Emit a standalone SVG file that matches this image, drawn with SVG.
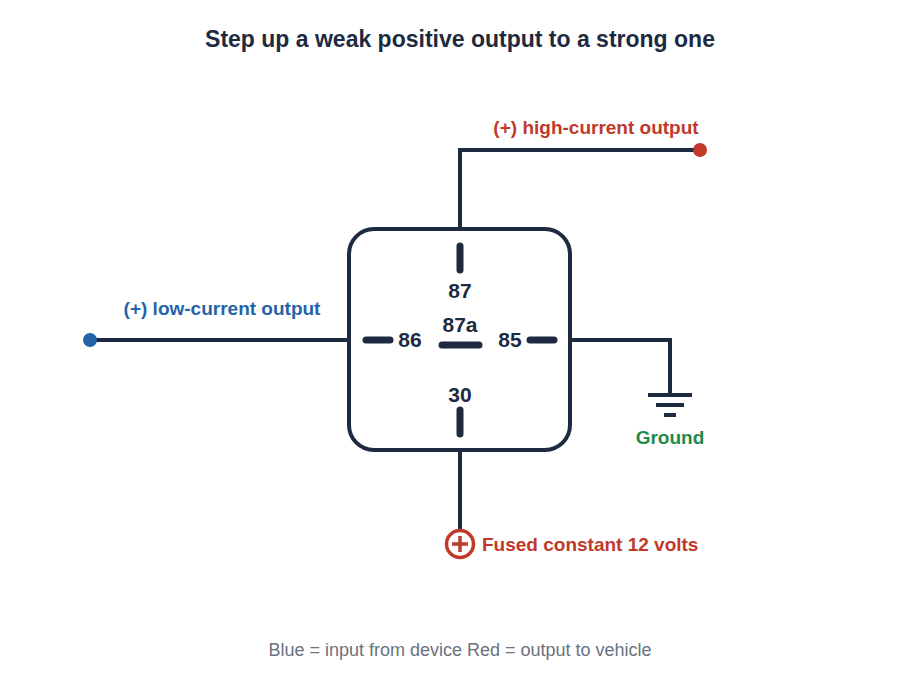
<svg xmlns="http://www.w3.org/2000/svg" width="920" height="680" viewBox="0 0 920 680">
<style>
.w{stroke:#1e2a40;stroke-width:4;fill:none}
.p{stroke:#1e2a40;stroke-width:7;stroke-linecap:round}
.t{font-family:"Liberation Sans",Arial,sans-serif;font-weight:bold}
.pin{font-size:21px;fill:#1e2a40;text-anchor:middle}
</style>
<rect width="920" height="680" fill="#fff"/>
<text class="t" x="460" y="47" font-size="23" fill="#1e2a40" text-anchor="middle">Step up a weak positive output to a strong one</text>
<g id="connectors">
<polyline class="w" points="460,229 460,150 700,150"/>
<line class="w" x1="90" y1="340" x2="349" y2="340"/>
<polyline class="w" points="570,340 670,340 670,395"/>
<line class="w" x1="460" y1="450" x2="460" y2="530"/>
</g>
<g id="relay">
<rect class="w" x="349" y="229" width="221" height="221" rx="25"/>
<line class="p" x1="460" y1="246" x2="460" y2="270"/>
<line class="p" x1="366" y1="340" x2="390" y2="340"/>
<line class="p" x1="442" y1="345" x2="479" y2="345"/>
<line class="p" x1="530" y1="340" x2="554" y2="340"/>
<line class="p" x1="460" y1="410" x2="460" y2="434"/>
<text class="t pin" x="460" y="298">87</text>
<text class="t pin" x="460" y="332">87a</text>
<text class="t pin" x="410" y="347">86</text>
<text class="t pin" x="510" y="347">85</text>
<text class="t pin" x="460" y="402">30</text>
</g>
<g id="high">
<circle cx="700" cy="150" r="7" fill="#c0392b"/>
<text class="t" x="596" y="134" font-size="19" fill="#c0392b" text-anchor="middle">(+) high-current output</text>
</g>
<g id="low">
<circle cx="90" cy="340" r="7" fill="#2563a8"/>
<text class="t" x="222" y="315" font-size="19" fill="#2563a8" text-anchor="middle">(+) low-current output</text>
</g>
<g id="ground">
<line stroke="#1e2a40" stroke-width="4" x1="648" y1="395" x2="692" y2="395"/>
<line stroke="#1e2a40" stroke-width="4" x1="656" y1="405" x2="684" y2="405"/>
<line stroke="#1e2a40" stroke-width="4" x1="664" y1="415" x2="676" y2="415"/>
<text class="t" x="670" y="444" font-size="19" fill="#1e8a4a" text-anchor="middle">Ground</text>
</g>
<g id="supply">
<circle cx="460" cy="544" r="13.5" fill="#fff" stroke="#c0392b" stroke-width="3.5"/>
<line stroke="#c0392b" stroke-width="3.5" x1="452" y1="544" x2="468" y2="544"/>
<line stroke="#c0392b" stroke-width="3.5" x1="460" y1="536" x2="460" y2="552"/>
<text class="t" x="482" y="551" font-size="19" fill="#c0392b">Fused constant 12 volts</text>
</g>
<text x="460" y="656" font-family="Liberation Sans,Arial,sans-serif" font-size="18" fill="#6b7280" text-anchor="middle">Blue = input from device Red = output to vehicle</text>
</svg>
